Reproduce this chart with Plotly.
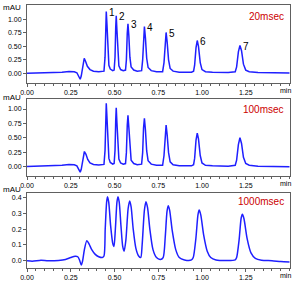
import plotly.graph_objects as go

# ---------------- data ----------------
# Panel 1: 20 msec
t20 = [0.00, 0.05, 0.10, 0.15, 0.20, 0.24, 0.27, 0.285, 0.297, 0.304, 0.310, 0.318, 0.327, 0.335, 0.345, 0.36, 0.38, 0.41, 0.435,
       0.440, 0.446, 0.450, 0.453, 0.457, 0.462, 0.468, 0.476, 0.490, 0.498,
       0.503, 0.507, 0.510, 0.514, 0.519, 0.525, 0.535, 0.55, 0.563,
       0.568, 0.573, 0.577, 0.582, 0.588, 0.595, 0.61, 0.63, 0.655,
       0.661, 0.666, 0.671, 0.677, 0.684, 0.692, 0.71, 0.74, 0.775,
       0.783, 0.789, 0.795, 0.801, 0.809, 0.818, 0.835, 0.87, 0.94, 0.952,
       0.958, 0.966, 0.973, 0.980, 0.990, 1.000, 1.02, 1.06, 1.15, 1.19,
       1.198, 1.208, 1.217, 1.226, 1.237, 1.25, 1.27, 1.32, 1.40, 1.45, 1.50]
v20 = [0.0, 0.005, 0.01, 0.012, 0.02, 0.035, 0.03, 0.01, -0.06, -0.11, -0.05, 0.15, 0.28, 0.22, 0.13, 0.07, 0.04, 0.03, 0.03,
       0.04, 0.3, 0.9, 1.15, 0.9, 0.35, 0.15, 0.08, 0.05, 0.06,
       0.3, 0.85, 1.07, 0.8, 0.35, 0.14, 0.07, 0.05, 0.06,
       0.25, 0.75, 0.92, 0.7, 0.3, 0.12, 0.06, 0.04, 0.05,
       0.25, 0.7, 0.87, 0.65, 0.28, 0.11, 0.05, 0.03, 0.03,
       0.2, 0.6, 0.76, 0.58, 0.25, 0.09, 0.04, 0.02, 0.02, 0.04,
       0.15, 0.48, 0.61, 0.5, 0.2, 0.07, 0.03, 0.02, 0.015, 0.03,
       0.12, 0.4, 0.52, 0.42, 0.17, 0.06, 0.03, 0.015, 0.01, 0.015, 0.005]

# Panel 2: 100 msec
t100 = [0.00, 0.05, 0.10, 0.15, 0.20, 0.24, 0.27, 0.285, 0.297, 0.304, 0.310, 0.318, 0.328, 0.337, 0.347, 0.36, 0.38, 0.41, 0.435,
        0.440, 0.446, 0.450, 0.453, 0.457, 0.462, 0.468, 0.476, 0.490, 0.498,
        0.503, 0.507, 0.510, 0.514, 0.519, 0.525, 0.535, 0.55, 0.563,
        0.568, 0.573, 0.577, 0.582, 0.588, 0.595, 0.61, 0.63, 0.655,
        0.661, 0.666, 0.671, 0.677, 0.684, 0.692, 0.71, 0.74, 0.775,
        0.783, 0.789, 0.795, 0.801, 0.809, 0.818, 0.835, 0.87, 0.94, 0.952,
        0.958, 0.966, 0.973, 0.980, 0.990, 1.000, 1.02, 1.06, 1.15, 1.19,
        1.198, 1.208, 1.217, 1.226, 1.237, 1.25, 1.27, 1.32, 1.40, 1.45, 1.50]
v100 = [0.0, 0.005, 0.01, 0.012, 0.02, 0.035, 0.03, 0.01, -0.05, -0.10, -0.05, 0.13, 0.26, 0.21, 0.12, 0.06, 0.035, 0.025, 0.025,
        0.035, 0.28, 0.85, 1.10, 0.85, 0.33, 0.14, 0.07, 0.04, 0.05,
        0.28, 0.8, 1.02, 0.76, 0.33, 0.13, 0.06, 0.04, 0.05,
        0.24, 0.72, 0.89, 0.68, 0.29, 0.11, 0.05, 0.03, 0.04,
        0.24, 0.67, 0.84, 0.63, 0.27, 0.1, 0.04, 0.02, 0.02,
        0.19, 0.57, 0.72, 0.55, 0.24, 0.08, 0.03, 0.01, 0.01, 0.03,
        0.14, 0.46, 0.58, 0.48, 0.19, 0.06, 0.02, 0.01, 0.005, 0.02,
        0.11, 0.38, 0.50, 0.40, 0.16, 0.05, 0.02, 0.005, 0.0, 0.005, -0.005]

# Panel 3: 1000 msec
t1000 = [0.00, 0.03, 0.08, 0.12, 0.18, 0.22, 0.25, 0.275, 0.29, 0.30, 0.31, 0.318, 0.328, 0.342, 0.355, 0.37, 0.39, 0.41, 0.43, 0.44,
         0.447, 0.455, 0.46, 0.467, 0.478, 0.49, 0.497,
         0.505, 0.514, 0.52, 0.527, 0.537, 0.547, 0.555,
         0.565, 0.578, 0.587, 0.595, 0.607, 0.622, 0.638, 0.65,
         0.658, 0.671, 0.68, 0.689, 0.702, 0.72, 0.74, 0.762,
         0.778, 0.790, 0.800, 0.807, 0.815, 0.83, 0.85, 0.87, 0.90, 0.94,
         0.95, 0.965, 0.977, 0.984, 0.993, 1.01, 1.03, 1.05, 1.08, 1.19,
         1.198, 1.212, 1.224, 1.231, 1.240, 1.258, 1.28, 1.305, 1.34, 1.40, 1.45, 1.50]
v1000 = [0.0, -0.003, 0.003, 0.0, 0.002, 0.008, 0.02, 0.028, 0.025, 0.005, -0.027, 0.0, 0.07, 0.127, 0.105, 0.07, 0.04, 0.025, 0.02, 0.03,
         0.2, 0.37, 0.405, 0.37, 0.22, 0.11, 0.09,
         0.2, 0.37, 0.405, 0.37, 0.22, 0.09, 0.06,
         0.13, 0.33, 0.378, 0.34, 0.2, 0.08, 0.03, 0.02,
         0.1, 0.32, 0.373, 0.335, 0.2, 0.07, 0.02, 0.008,
         0.02, 0.15, 0.31, 0.348, 0.32, 0.19, 0.07, 0.02, 0.005, 0.005,
         0.02, 0.14, 0.29, 0.32, 0.29, 0.16, 0.06, 0.02, 0.005, 0.005,
         0.02, 0.13, 0.27, 0.293, 0.265, 0.14, 0.05, 0.015, 0.003, 0.0, -0.005, -0.008]

panel_labels = ["20msec", "100msec", "1000msec"]
peak_names = ["1", "2", "3", "4", "5", "6", "7"]
peak_times = [0.453, 0.510, 0.577, 0.671, 0.795, 0.973, 1.217]
peak_heights = [1.15, 1.07, 0.92, 0.87, 0.76, 0.61, 0.52]

x_tick_vals = [0.00, 0.25, 0.50, 0.75, 1.00, 1.25]
x_tick_text = ["0.00", "0.25", "0.50", "0.75", "1.00", "1.25"]
y_ticks_top = [0.00, 0.25, 0.50, 0.75, 1.00]
y_ticks_bottom = [0.0, 0.1, 0.2, 0.3, 0.4]

# ---------------- figure ----------------
BLUE = "#1f1fff"
FRAME = "#606060"
FONT = "Arial, Liberation Sans, sans-serif"

fig = go.Figure()
series = [(t20, v20), (t100, v100), (t1000, v1000)]
for i, (tx, vy) in enumerate(series):
    sfx = "" if i == 0 else str(i + 1)
    fig.add_trace(go.Scatter(x=tx, y=vy, mode="lines",
                             line=dict(color=BLUE, width=1.5,
                                       shape="spline" if i == 2 else "linear",
                                       smoothing=0.7),
                             xaxis="x" + sfx, yaxis="y" + sfx,
                             showlegend=False, hoverinfo="skip"))

domains = [[0.7034, 1.0], [0.3498, 0.6426], [0.0, 0.2852]]
yranges = [[-0.18, 1.27], [-0.167, 1.175], [-0.046, 0.428]]
ytickvals = [y_ticks_top, y_ticks_top, y_ticks_bottom]
yfmts = [".2f", ".2f", ".1f"]

layout = dict(width=300, height=287,
              margin=dict(l=27, r=10, t=5, b=19),
              paper_bgcolor="white", plot_bgcolor="white",
              font=dict(family=FONT, size=7, color="black"))

for i in range(3):
    sfx = "" if i == 0 else str(i + 1)
    layout["xaxis" + sfx] = dict(
        domain=[0, 1], range=[0, 1.503], anchor="y" + sfx,
        tickvals=x_tick_vals, ticktext=x_tick_text,
        ticks="outside", ticklen=3, tickcolor=FRAME, tickwidth=1,
        minor=dict(dtick=0.05, tick0=0, ticks="outside", ticklen=2, tickcolor=FRAME),
        showline=True, linecolor=FRAME, linewidth=1, mirror=True,
        showgrid=False, zeroline=False,
        tickfont=dict(size=7, family=FONT))
    layout["yaxis" + sfx] = dict(
        domain=domains[i], range=yranges[i], anchor="x" + sfx,
        tickvals=ytickvals[i], tickformat=yfmts[i],
        ticks="outside", ticklen=3, tickcolor=FRAME, tickwidth=1,
        showline=True, linecolor=FRAME, linewidth=1, mirror=True,
        showgrid=False, zeroline=False,
        tickfont=dict(size=7, family=FONT))

fig.update_layout(**layout)

annotations = []
mau_y = [0.9886, 0.650, 0.300]
min_y = [0.6768, 0.323, -0.0304]
lab_y = [0.958, 0.603, 0.251]
for i in range(3):
    annotations.append(dict(text="mAU", xref="paper", yref="paper", x=-0.015, y=mau_y[i],
                            xanchor="right", yanchor="middle", showarrow=False,
                            font=dict(size=8, family=FONT, color="black")))
    annotations.append(dict(text="min", xref="paper", yref="paper", x=0.981, y=min_y[i],
                            xanchor="center", yanchor="middle", showarrow=False,
                            font=dict(size=7, family=FONT, color="black")))
    annotations.append(dict(text=panel_labels[i], xref="paper", yref="paper", x=0.985, y=lab_y[i],
                            xanchor="right", yanchor="middle", showarrow=False,
                            font=dict(size=10, family=FONT, color="#cc0000")))
for name, pt, ph in zip(peak_names, peak_times, peak_heights):
    annotations.append(dict(text=name, xref="x", yref="y", x=pt, y=ph,
                            xanchor="left", yanchor="middle", xshift=1, yshift=-1,
                            showarrow=False,
                            font=dict(size=10, family=FONT, color="black")))
fig.update_layout(annotations=annotations)

fig.write_html("out.html")
